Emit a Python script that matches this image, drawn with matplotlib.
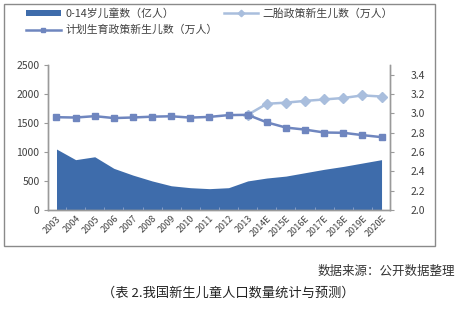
import matplotlib
matplotlib.use('Agg')
import matplotlib.pyplot as plt
from matplotlib.patches import Rectangle

plt.rcParams['font.family'] = ['Noto Sans CJK SC', 'DejaVu Sans']

years = ['2003', '2004', '2005', '2006', '2007', '2008', '2009', '2010', '2011',
         '2012', '2013', '2014E', '2015E', '2016E', '2017E', '2018E', '2019E', '2020E']
# 0-14岁儿童数（亿人），右轴
children = [2.63, 2.52, 2.55, 2.43, 2.36, 2.30, 2.25, 2.23, 2.22,
            2.23, 2.30, 2.33, 2.35, 2.385, 2.42, 2.45, 2.485, 2.52]
# 计划生育政策新生儿数（万人），左轴
births_plan = [1599, 1593, 1617, 1584, 1594, 1608, 1615, 1592, 1604,
               1635, 1640, 1510, 1420, 1385, 1335, 1330, 1290, 1255]
# 二胎政策新生儿数（万人），左轴
births_two = [None] * 10 + [1640, 1830, 1850, 1880, 1905, 1930, 1975, 1955]

area_color = '#3E6CAB'
dark_color = '#6F86BF'
light_color = '#A9BEDD'
axis_color = '#9A9A9A'
text_color = '#404040'

fig = plt.figure(figsize=(4.65, 3.28), dpi=100)
ax = fig.add_axes([0.103, 0.36, 0.736, 0.442])
ax2 = ax.twinx()

x = list(range(len(years)))

# area on the right axis
ax2.fill_between(x, children, 2.0, color=area_color, linewidth=0,
                 label='0-14岁儿童数（亿人）')
ax2.set_ylim(2.0, 3.5)
ax2.set_yticks([2.0, 2.2, 2.4, 2.6, 2.8, 3.0, 3.2, 3.4])
ax2.set_yticklabels(['%.1f' % v for v in ax2.get_yticks()])

# lines on the left axis, drawn above the area
x2 = [i for i, v in enumerate(births_two) if v is not None]
y2 = [v for v in births_two if v is not None]
ax.plot(x2, y2, color=light_color, lw=1.8, marker='D', ms=5.5,
        label='二胎政策新生儿数（万人）')
ax.plot(x, births_plan, color=dark_color, lw=1.8, marker='s', ms=5,
        label='计划生育政策新生儿数（万人）')
ax.set_zorder(ax2.get_zorder() + 1)
ax.patch.set_visible(False)

ax.set_ylim(0, 2500)
ax.set_yticks([0, 500, 1000, 1500, 2000, 2500])
ax.set_xlim(-0.45, len(years) - 0.55)
ax.set_xticks(x)
ax.set_xticklabels(years, rotation=45, ha='right', rotation_mode='anchor')
ax.set_xticks([i + 0.5 for i in x[:-1]], minor=True)

for a in (ax, ax2):
    a.spines['top'].set_visible(False)
    for s in ('left', 'right', 'bottom'):
        a.spines[s].set_color(axis_color)
        a.spines[s].set_linewidth(1.0)
    a.tick_params(colors=axis_color, labelcolor=text_color, labelsize=7.5, length=3)

ax.tick_params(axis='x', which='major', length=0, labelsize=6.5, pad=3)
ax.tick_params(axis='x', which='minor', direction='in', length=2.5,
               color='#8FA6CF')
ax.tick_params(axis='y', pad=3)
ax2.tick_params(axis='y', pad=12)

handles = [ax2.collections[0], ax.lines[1], ax.lines[0]]
labels = [h.get_label() for h in handles]
leg = fig.legend(handles, labels, ncol=2, loc='upper left',
                 bbox_to_anchor=(0.035, 1.005), frameon=False, fontsize=7.8,
                 handlelength=3.2, handleheight=0.45, columnspacing=0.6,
                 labelspacing=0.55, handletextpad=0.4, markerscale=0.6)
for t in leg.get_texts():
    t.set_color(text_color)

# chart border
fig.patches.append(Rectangle((4 / 465, 82 / 328), 431 / 465, 242 / 328,
                             transform=fig.transFigure, fill=False,
                             edgecolor='#8A8A8A', lw=1.0))

fig.text(455 / 465, 1 - 271 / 328, '数据来源：公开数据整理', ha='right',
         va='center', fontsize=9, color='#333333')
fig.text(228 / 465, 1 - 293 / 328, '（表 2.我国新生儿童人口数量统计与预测）',
         ha='center', va='center', fontsize=9.5, color='#222222', style='italic')

fig.savefig('out.png', dpi=100)
